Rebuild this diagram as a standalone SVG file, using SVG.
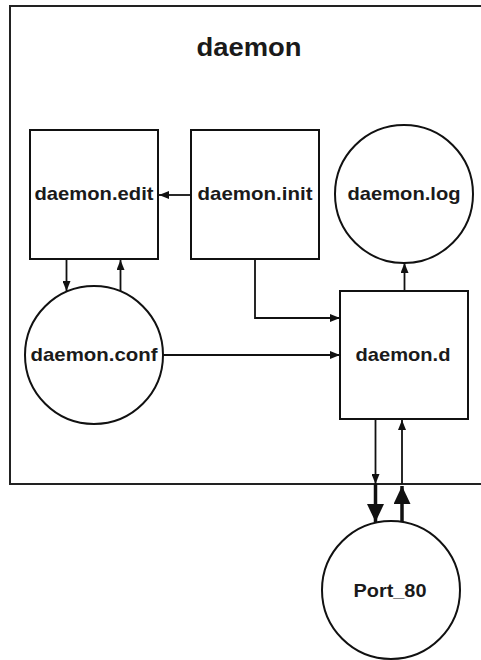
<svg xmlns="http://www.w3.org/2000/svg" width="481" height="660" viewBox="0 0 481 660">
  <style>
    .shape { fill: #ffffff; stroke: #111111; stroke-width: 2; }
    .frame { fill: #ffffff; stroke: #222222; stroke-width: 2; }
    .label { font-family: "Liberation Sans", Arial, sans-serif; font-weight: bold; font-size: 19px; fill: #1a1a1a; text-anchor: middle; }
    .title { font-size: 25px; }
    .wire { fill: none; stroke: #111111; stroke-width: 1.8; }
    .wire-thick { fill: none; stroke: #111111; stroke-width: 3.5; }
  </style>
  <defs>
    <marker id="arrow" viewBox="0 0 10 8" refX="10" refY="4" markerWidth="10" markerHeight="8" markerUnits="userSpaceOnUse" orient="auto">
      <path d="M0,0 L10,4 L0,8 Z" fill="#111111"/>
    </marker>
    <marker id="arrow-big" viewBox="0 0 18 17" refX="18" refY="8.5" markerWidth="18" markerHeight="17" markerUnits="userSpaceOnUse" orient="auto">
      <path d="M0,0 L18,8.5 L0,17 Z" fill="#111111"/>
    </marker>
  </defs>

  <!-- enclosing daemon boundary -->
  <g id="daemon">
    <rect class="frame" x="10" y="6" width="490" height="478"/>
    <text class="label title" x="249" y="56" textLength="105" lengthAdjust="spacingAndGlyphs">daemon</text>
  </g>

  <g id="daemon-edit">
    <rect class="shape" x="30" y="130" width="128" height="129"/>
    <text class="label" x="94" y="200" textLength="119" lengthAdjust="spacingAndGlyphs">daemon.edit</text>
  </g>

  <g id="daemon-init">
    <rect class="shape" x="191" y="130" width="128" height="129"/>
    <text class="label" x="255" y="200" textLength="115" lengthAdjust="spacingAndGlyphs">daemon.init</text>
  </g>

  <g id="daemon-log">
    <circle class="shape" cx="404" cy="194" r="69"/>
    <text class="label" x="404" y="200" textLength="113" lengthAdjust="spacingAndGlyphs">daemon.log</text>
  </g>

  <g id="daemon-conf">
    <circle class="shape" cx="94" cy="355" r="69"/>
    <text class="label" x="94" y="361" textLength="127" lengthAdjust="spacingAndGlyphs">daemon.conf</text>
  </g>

  <g id="daemon-d">
    <rect class="shape" x="340" y="291" width="128" height="128"/>
    <text class="label" x="403" y="361" textLength="95" lengthAdjust="spacingAndGlyphs">daemon.d</text>
  </g>

  <g id="port-80">
    <circle class="shape" cx="391" cy="590" r="69"/>
    <text class="label" x="390" y="597" textLength="73" lengthAdjust="spacingAndGlyphs">Port_80</text>
  </g>

  <g id="connectors">
    <!-- init -> edit -->
    <path class="wire" d="M191,195 H159" marker-end="url(#arrow)"/>
    <!-- edit <-> conf -->
    <path class="wire" d="M66.5,259 V291" marker-end="url(#arrow)"/>
    <path class="wire" d="M120.5,291 V260" marker-end="url(#arrow)"/>
    <!-- init -> d -->
    <path class="wire" d="M255,259 V318 H340" marker-end="url(#arrow)"/>
    <!-- conf -> d -->
    <path class="wire" d="M163,355 H340" marker-end="url(#arrow)"/>
    <!-- d -> log -->
    <path class="wire" d="M404.5,291 V263" marker-end="url(#arrow)"/>
    <!-- d -> port, inside and outside the boundary -->
    <path class="wire" d="M375.5,419 V484" marker-end="url(#arrow)"/>
    <path class="wire-thick" d="M375.5,484 V522" marker-end="url(#arrow-big)"/>
    <!-- port -> d, outside and inside the boundary -->
    <path class="wire-thick" d="M402,522 V486" marker-end="url(#arrow-big)"/>
    <path class="wire" d="M402,484 V420" marker-end="url(#arrow)"/>
  </g>
</svg>
